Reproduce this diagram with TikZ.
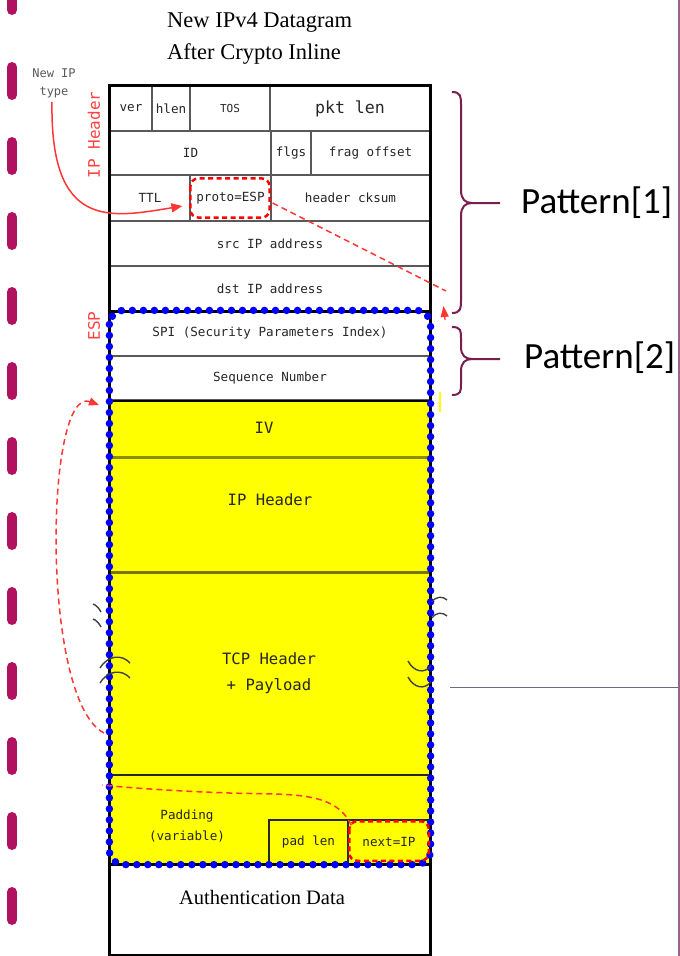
\documentclass[tikz,border=0pt]{standalone}
\usepackage{fontspec}
\setmainfont{Liberation Serif}
\newfontfamily\cellfont{DejaVu Sans Mono}
\newfontfamily\calfont{Carlito}
\usetikzlibrary{arrows.meta,calc}
\definecolor{dashmag}{HTML}{B0125F}
\definecolor{bracec}{HTML}{7A1D4F}
\definecolor{framel}{HTML}{9E6189}
\definecolor{hlinec}{HTML}{77687F}
\definecolor{olivel}{HTML}{8C8C00}
\definecolor{redA}{HTML}{FF2020}
\definecolor{yel}{HTML}{FFFF00}
\begin{document}
\begin{tikzpicture}[x=1pt,y=-1pt,
 cell/.style={draw=black!65, line width=1.2, inner sep=0, font=\cellfont\fontsize{12.6}{15}\selectfont, text=black!85},
 ycell/.style={cell, draw=none, fill=yel},
 txt/.style={inner sep=0, font=\cellfont\fontsize{12.6}{21}\selectfont, text=black!85, align=center},
 ytext/.style={inner sep=0, font=\cellfont\fontsize{15.6}{26}\selectfont, text=black!85, align=center},
 redlbl/.style={inner sep=0, font=\cellfont\fontsize{16}{18}\selectfont, text=redA!85, rotate=90},
 serif/.style={inner sep=0, font=\fontsize{22.5}{26}\selectfont},
 pat/.style={inner sep=0, anchor=west, font=\calfont\fontsize{37}{40}\selectfont},
 brc/.style={draw=bracec, line width=2},
 magdash/.style={draw=dashmag, line width=10, line cap=round},
 reddash/.style={draw=red, line width=2.5, dash pattern=on 5pt off 3.5pt, rounded corners=8},
 redthin/.style={draw=redA!90, line width=1.5, dash pattern=on 6pt off 4pt},
 redarr/.style={draw=redA!90, line width=1.5, -{Triangle[length=11pt,width=9pt]}},
 bluedots/.style={draw=blue, line width=7.5, dash pattern=on 0.01pt off 11pt, line cap=round, rounded corners=14},
 sq/.style={draw=black!75, line width=1.4},
]
\useasboundingbox (0,0) rectangle (680,956);

% left magenta dashes
\draw[magdash] (12,-20) -- (12,10);
\foreach \c in {81,156,...,906} \draw[magdash] (12,\c-14) -- (12,\c+14);

% right frame line and horizontal line
\draw[framel, line width=1.5] (679,0) -- (679,956);
\coordinate (hl1) at (450,687);
\coordinate (hl2) at (679,687);
\draw[hlinec, line width=1] (hl1) -- (hl2);

% title
\node[serif, anchor=base west] (t1) at (167,27) {New IPv4 Datagram};
\node[serif, anchor=base west] (t2) at (167,59) {After Crypto Inline};

% IP header cells
\node[cell, minimum width=42, minimum height=45] (ver) at (131,108.5) {ver};
\node[cell, minimum width=38, minimum height=45] (hlen) at (171,108.5) {hlen};
\node[cell, minimum width=80, minimum height=45, font=\cellfont\fontsize{11}{13}\selectfont] (tos) at (230,108.5) {TOS};
\node[cell, minimum width=160, minimum height=45, font=\cellfont\fontsize{16.6}{19}\selectfont] (pkt) at (350,108.5) {pkt len};
\node[cell, minimum width=161, minimum height=44] (id) at (190.5,153) {ID};
\node[cell, minimum width=40, minimum height=44] (flgs) at (291,153) {flgs};
\node[cell, minimum width=119, minimum height=44] (frag) at (370.5,153) {frag offset};
\node[cell, minimum width=80, minimum height=46] (ttl) at (150,198) {TTL};
\node[cell, minimum width=81, minimum height=46] (proto) at (230.5,198) {proto=ESP};
\node[cell, minimum width=159, minimum height=46] (cks) at (350.5,198) {header cksum};
\node[cell, minimum width=320, minimum height=45] (src) at (270,243.5) {src IP address};
\node[cell, minimum width=320, minimum height=45] (dst) at (270,288.5) {dst IP address};
% ESP cells
\node[cell, minimum width=320, minimum height=45] (spi) at (270,333.5) {SPI (Security Parameters Index)};
\node[cell, minimum width=320, minimum height=44] (seq) at (270,378) {Sequence Number};
\node[ycell, minimum width=320, minimum height=57] (iv) at (270,428.5) {};
\node[ycell, minimum width=320, minimum height=115] (iph) at (270,514.5) {};
\node[ycell, minimum width=320, minimum height=202] (tcp) at (270,673) {};
\node[ycell, minimum width=320, minimum height=90] (pad) at (270,819) {};
\node[cell, fill=yel, draw=black!85, line width=1.5, minimum width=79, minimum height=44] (padlen) at (308.5,842) {pad len};
\node[cell, fill=yel, draw=black!85, line width=1.5, minimum width=82, minimum height=44] (next) at (389,842) {next=IP};
\node[cell, draw=none, minimum width=320, minimum height=91] (auth) at (270,909.5) {};

% separators
\draw[olivel, line width=3] (iv.south west) -- (iv.south east);
\draw[olivel!85!black, line width=3] (iph.south west) -- (iph.south east);
\draw[black!85, line width=2] (tcp.south west) -- (tcp.south east);
\draw[black, line width=2] (seq.south west) -- (seq.south east);
\draw[black, line width=3] (dst.south west) -- (dst.south east);
\draw[black, line width=3] (pad.south west) -- (pad.south east);

% texts in yellow part
\node[ytext] (ivt) at (264,428) {IV};
\node[ytext] (ipht) at (270,500) {IP Header};
\node[ytext] (tcpt) at (269,673) {TCP Header\\+ Payload};
\node[txt] (padt) at (187,826.5) {Padding\\(variable)};
\node[serif, font=\fontsize{20.5}{24}\selectfont] (autht) at (262,897) {Authentication Data};

% outer box
\draw[black, line width=3] (ver.north west) rectangle (auth.south east);

% blue dotted ESP outline
\draw[bluedots] (spi.north west) rectangle (pad.south east);

% red dashed boxes
\draw[reddash] ($(proto.north west)+(1,4)$) rectangle ($(proto.south east)+(-2,-4)$);
\draw[reddash] ($(next.north west)+(2,2)$) rectangle ($(next.south east)+(-2,-4)$);

% side labels
\node[redlbl] (iplbl) at (94,135) {IP Header};
\node[redlbl] (esplbl) at (94,326) {ESP};
\node[txt, font=\cellfont\fontsize{12}{18}\selectfont, text=black!65] (newip) at (54,83) {New IP\\type};

% arrows
\coordinate (arrS) at (52,102);
\coordinate (arrE) at ($(proto.west)+(-7,8)$);
\draw[redarr] (arrS) .. controls (50,230) and (110,218) .. (arrE);

\coordinate (pdA) at ($(proto.east)+(1,5)$);
\coordinate (pdB) at (446,291);
\draw[redthin] (pdA) -- (pdB);
\coordinate (tipA) at (445,320);
\coordinate (tipB) at (443.5,306);
\draw[draw=redA!90, line width=1.2, -{Triangle[length=11pt,width=8pt]}] (tipA) -- (tipB);

\coordinate (tcpL) at (104,733);
\coordinate (ivL) at (99,405);
\draw[redthin, -{Triangle[length=10pt,width=8pt]}] (tcpL) .. controls (40,700) and (45,385) .. (ivL);
\coordinate (nxA) at ($(next.north west)+(4,6)$);
\coordinate (padL) at (102,785);
\draw[redthin] (nxA) .. controls (335,790) and (290,795) .. (230,793) .. controls (170,791) and (120,787) .. (padL);

% squiggles (cut marks)
\draw[sq] (93,604) .. controls (96,605) and (99,608) .. (101,612);
\draw[sq] (93,619) .. controls (96,620) and (99,623) .. (101,627);
\draw[sq] (100,668) .. controls (108,655) and (122,654) .. (130,663);
\draw[sq] (100,683) .. controls (108,670) and (122,669) .. (130,678);
\draw[sq] (432,602) .. controls (436,596) and (443,596) .. (447,600);
\draw[sq] (432,618) .. controls (436,612) and (443,612) .. (447,616);
\draw[sq] (408,661) .. controls (414,672) and (424,674) .. (431,666);
\draw[sq] (408,677) .. controls (414,688) and (424,690) .. (431,682);

% small yellow mark
\coordinate (ym1) at (440,392);
\coordinate (ym2) at (440,412);
\draw[yel, line width=1.5] (ym1) -- (ym2);

% braces
\node[pat] (p1) at (521,203) {Pattern[1]};
\node[pat] (p2) at (524,358) {Pattern[2]};
\coordinate (b1t) at (500,203);
\draw[brc] (452,92) .. controls (461,92) and (461,97) .. (461,105) -- (461,190) .. controls (461,199) and (465,203) .. (472,203) -- (b1t);
\draw[brc] (452,313) .. controls (461,313) and (461,308) .. (461,300) -- (461,216) .. controls (461,207) and (465,203) .. (472,203);
\coordinate (b2t) at (500,359);
\draw[brc] (452,327) .. controls (461,327) and (461,331) .. (461,338) -- (461,347) .. controls (461,355) and (465,359) .. (472,359) -- (b2t);
\draw[brc] (452,395) .. controls (461,395) and (461,391) .. (461,384) -- (461,371) .. controls (461,363) and (465,359) .. (472,359);
\end{tikzpicture}
\end{document}
